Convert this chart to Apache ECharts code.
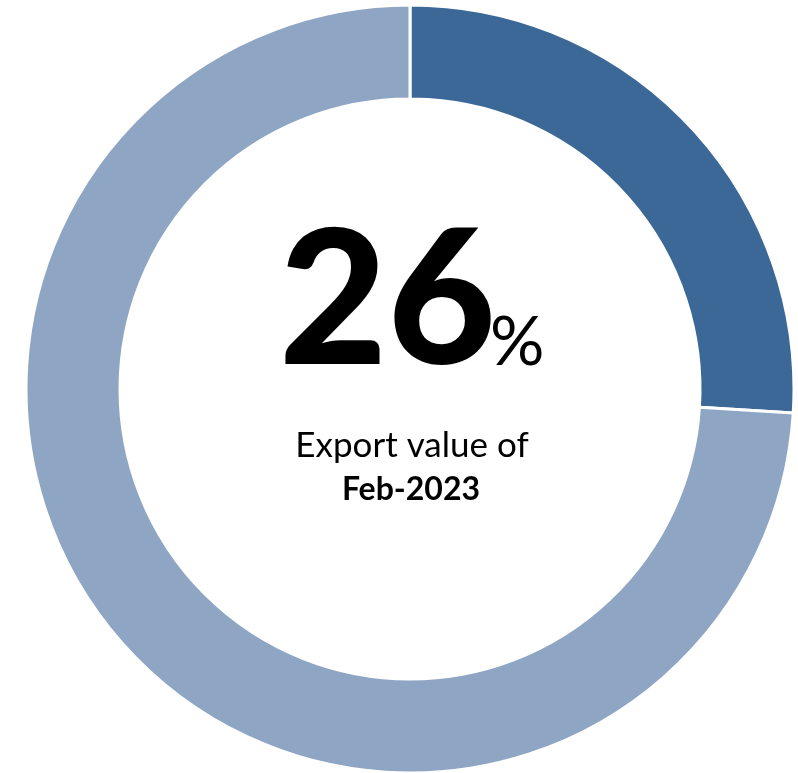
<!DOCTYPE html>
<html>
<head>
<meta charset="utf-8">
<script src="https://cdn.jsdelivr.net/npm/echarts@6/dist/echarts.min.js"></script>
<style>
  html, body { margin: 0; padding: 0; background: #fff; }
  #chart { width: 798px; height: 773px; }
</style>
</head>
<body>
<div id="chart"></div>
<script>
// Share of export value for the month
const categories = ['Feb-2023', 'Other'];
const shares = [26, 74];
const colors = ['#3b6897', '#8fa5c4'];
const subtitle = 'Export value of';
const period = 'Feb-2023';

const chart = echarts.init(document.getElementById('chart'), null, { renderer: 'canvas' });

const cx = 410, cy = 389;

chart.setOption({
  animation: false,
  series: [{
    type: 'pie',
    center: [cx, cy],
    radius: [290, 384],
    startAngle: 90,
    clockwise: true,
    silent: true,
    label: { show: false },
    labelLine: { show: false },
    itemStyle: { borderColor: '#ffffff', borderWidth: 3 },
    data: categories.map((c, i) => ({
      name: c,
      value: shares[i],
      itemStyle: { color: colors[i] }
    }))
  }],
  graphic: [
    {
      type: 'text',
      x: 279, y: 210,
      style: {
        text: String(shares[0]),
        fontFamily: 'Lato', fontWeight: 900, fontSize: 187, fill: '#000',
        align: 'left', verticalAlign: 'top'
      }
    },
    {
      type: 'text',
      x: 490, y: 309,
      style: {
        text: '%',
        fontFamily: 'Lato', fontSize: 68, fill: '#000',
        align: 'left', verticalAlign: 'top'
      }
    },
    {
      type: 'text',
      x: cx + 2, y: 428,
      style: {
        text: subtitle,
        fontFamily: 'Lato', fontSize: 35, fill: '#000',
        align: 'center', verticalAlign: 'top'
      }
    },
    {
      type: 'text',
      x: cx + 1, y: 474,
      style: {
        text: period,
        fontFamily: 'Lato', fontWeight: 'bold', fontSize: 32, fill: '#000',
        align: 'center', verticalAlign: 'top'
      }
    }
  ]
});
</script>
</body>
</html>
